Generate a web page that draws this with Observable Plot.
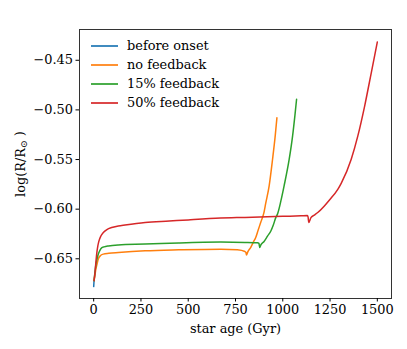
<!DOCTYPE html>
<html><head><meta charset="utf-8">
<script src="https://cdn.jsdelivr.net/npm/d3@7"></script>
<script src="https://cdn.jsdelivr.net/npm/@observablehq/plot@0.6"></script>
<style>
body{margin:0;background:#fff;}
#wrap{position:relative;width:407px;height:349px;}
#legend{position:absolute;left:91px;top:36px;font-family:"DejaVu Serif";font-size:12.9px;color:#000;}
#legend .row{display:flex;align-items:center;height:19px;}
#legend .sw{display:inline-block;width:27px;height:2px;margin-right:9px;opacity:0.85;}
</style></head><body><div id="wrap"></div>
<script>
const seriesNames = ["before onset", "no feedback", "15% feedback", "50% feedback"];
const seriesColors = ["#1f77b4", "#ff7f0e", "#2ca02c", "#d62728"];
const xTicks = [0, 250, 500, 750, 1000, 1250, 1500];
const yTicks = [-0.65, -0.60, -0.55, -0.50, -0.45];

const beforeAge = [0, 1, 2];
const beforeLogR = [-0.678, -0.675, -0.672];

const noFbAge = [2, 7, 12, 18, 25, 35, 51, 80, 131, 272, 450, 672, 760, 800, 805, 808, 815, 830, 845, 857, 870, 884, 901, 910, 928, 946, 960, 969];
const noFbLogR = [-0.672, -0.666, -0.660, -0.655, -0.650, -0.647, -0.6453, -0.6445, -0.6437, -0.642, -0.641, -0.6403, -0.641, -0.6427, -0.6435, -0.6463, -0.643, -0.6387, -0.633, -0.6286, -0.621, -0.613, -0.603, -0.594, -0.5765, -0.5497, -0.5262, -0.508];

const fb15Age = [2, 7, 12, 18, 25, 33, 42, 55, 78, 130, 272, 450, 672, 800, 866, 874, 878, 884, 901, 920, 937, 950, 963, 972, 990, 1007, 1034, 1052, 1064, 1073];
const fb15LogR = [-0.672, -0.663, -0.6553, -0.650, -0.645, -0.6415, -0.639, -0.638, -0.637, -0.636, -0.6352, -0.634, -0.6332, -0.6335, -0.6339, -0.6345, -0.6387, -0.636, -0.6326, -0.627, -0.622, -0.616, -0.6085, -0.605, -0.5917, -0.5765, -0.5497, -0.5262, -0.506, -0.4893];

const fb50Age = [2, 7, 11, 16, 22, 28, 38, 51, 70, 95, 130, 166, 272, 400, 500, 671, 800, 1000, 1097, 1130, 1134, 1137, 1149, 1167, 1185, 1220, 1247, 1291, 1309, 1362, 1397, 1433, 1468, 1500];
const fb50LogR = [-0.672, -0.664, -0.655, -0.645, -0.637, -0.632, -0.627, -0.6235, -0.6205, -0.6185, -0.617, -0.616, -0.6135, -0.612, -0.6108, -0.609, -0.6083, -0.6072, -0.6067, -0.6065, -0.608, -0.6135, -0.6085, -0.606, -0.6034, -0.5967, -0.5907, -0.580, -0.5740, -0.5497, -0.5262, -0.4961, -0.4626, -0.4316];

const seriesAges = [beforeAge, noFbAge, fb15Age, fb50Age];
const seriesLogR = [beforeLogR, noFbLogR, fb15LogR, fb50LogR];
const rows = [];
seriesNames.forEach((name, i) => {
  seriesAges[i].forEach((a, j) => rows.push({series: name, age: a, logR: seriesLogR[i][j]}));
});

const plot = Plot.plot({
  width: 407, height: 349,
  marginLeft: 79, marginRight: 16, marginTop: 29, marginBottom: 51,
  style: {fontFamily: "DejaVu Serif", fontSize: "12.9px", background: "white", color: "black"},
  x: {domain: [-75, 1575]},
  y: {domain: [-0.690, -0.419]},
  color: {domain: seriesNames, range: seriesColors},
  marks: [
    Plot.line(rows, {x: "age", y: "logR", z: "series", stroke: "series", strokeWidth: 1.5, curve: "monotone-x"}),
    Plot.frame({stroke: "#333"}),
    Plot.axisX({ticks: xTicks, tickFormat: d3.format("d"), tickSize: 3.5, tickPadding: 3,
      label: "star age (Gyr)", labelAnchor: "center", labelOffset: 34, labelArrow: "none"}),
    Plot.axisY({ticks: yTicks, tickFormat: d3.format(".2f"), tickSize: 3.5, tickPadding: 3,
      label: "log(R/R⊙)", labelAnchor: "center", labelOffset: 64, labelArrow: "none"})
  ]
});
document.getElementById("wrap").appendChild(plot);

// subscript for the sun symbol in the y label
const yl = d3.select(plot).select('g[aria-label="y-axis label"] text');
if (!yl.empty()) {
  yl.text(null);
  yl.append("tspan").text("log(R/R");
  yl.append("tspan").attr("dy", "0.3em").attr("font-size", "0.72em").text("⊙");
  yl.append("tspan").attr("dy", "-0.3em").text(" )");
}

const legend = d3.select("#wrap").append("div").attr("id", "legend");
seriesNames.forEach((name, i) => {
  const r = legend.append("div").attr("class", "row");
  r.append("span").attr("class", "sw").style("background", seriesColors[i]);
  r.append("span").text(name);
});
</script></body></html>
